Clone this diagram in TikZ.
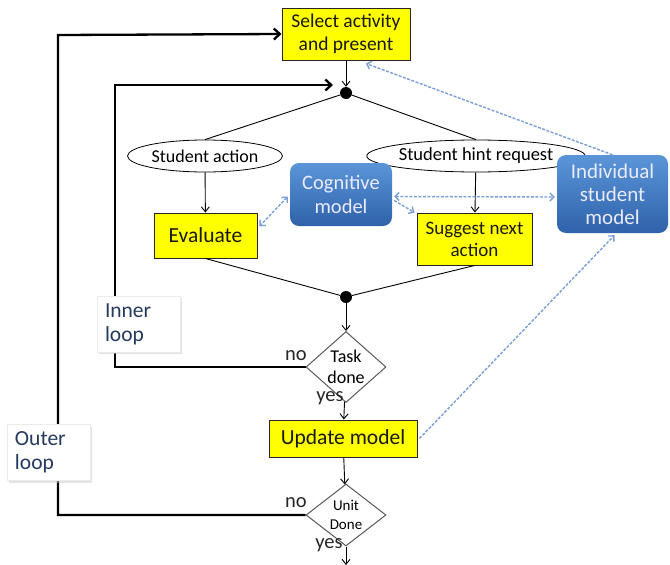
\documentclass[tikz,border=0pt]{standalone}
\usepackage{fontspec}
\setmainfont{Carlito}
\usetikzlibrary{shapes.geometric,arrows.meta,shadows,calc}
\definecolor{dashblue}{HTML}{7A9ED6}
\definecolor{btop}{HTML}{5B95D8}
\definecolor{bbot}{HTML}{2E62AA}
\definecolor{ylw}{HTML}{FFFF00}
\definecolor{labtxt}{HTML}{243A5E}
\tikzset{dtip/.tip={Straight Barb[length=4pt,width=8pt]}}
\begin{document}
\begin{tikzpicture}[x=1pt,y=-1pt,
  ybox/.style={draw=black!85, fill=ylw, line width=1pt, align=center, inner sep=0pt, text=black!90},
  ell/.style={ellipse, draw=black, line width=0.8pt, minimum width=155pt, minimum height=32pt, inner sep=0pt, font=\fontsize{18}{20}\selectfont},
  bbox/.style={rounded corners=9pt, top color=btop, bottom color=bbot, draw=none, text=white!92!blue, align=center, inner sep=0pt},
  dia/.style={diamond, draw=black!65, line width=1pt, fill=white, minimum width=80pt, minimum height=60pt, inner sep=0pt, align=center},
  jdot/.style={circle, fill=black, minimum size=12pt, inner sep=0pt},
  loopbox/.style={fill=white, draw=black!8, drop shadow={shadow xshift=2pt, shadow yshift=-2pt, fill=black!22}, align=left, inner xsep=8pt, inner ysep=0pt, font=\fontsize{21.5}{24}\selectfont, text=labtxt},
  flow/.style={-{Straight Barb[length=5pt,width=8pt]}, line width=0.9pt},
  loopline/.style={line width=2.3pt, -{Straight Barb[length=6pt,width=11pt]}},
  dlink/.style={draw=dashblue, dashed, dash pattern=on 3pt off 1.5pt, line width=1.4pt},
  ltxt/.style={font=\fontsize{20.5}{22}\selectfont, inner sep=0pt, text=black!85}
]
\useasboundingbox (0,0) rectangle (670,565);

% nodes
\node[ybox, minimum width=128pt, minimum height=52pt, font=\fontsize{19.5}{23}\selectfont] (sel) at (346,34) {Select activity\\and present};
\node[jdot] (d1) at (346,93) {};
\node[ell] (sa) at (205,156) {Student action};
\node[ell, font=\fontsize{18.5}{20}\selectfont] (sh) at (476,156) {Student hint request};
\node[ybox, minimum width=103pt, minimum height=45pt, font=\fontsize{21.5}{23}\selectfont] (ev) at (205.5,235.5) {Evaluate};
\node[ybox, minimum width=115pt, minimum height=52pt, font=\fontsize{19}{22}\selectfont] (sn) at (474.5,239) {Suggest next\\action};
\node[bbox, minimum width=102pt, minimum height=63pt, font=\fontsize{20.5}{24}\selectfont] (cm) at (341,194.5) {Cognitive\\model};
\node[bbox, minimum width=111pt, minimum height=78pt, font=\fontsize{21}{23}\selectfont] (ism) at (612.5,194) {Individual\\student\\model};
\node[jdot] (d2) at (346,297) {};
\node[dia, font=\fontsize{18}{21}\selectfont] (td) at (346,367) {Task\\done};
\node[ybox, minimum width=148pt, minimum height=37pt, font=\fontsize{21.5}{23}\selectfont] (um) at (343,438.5) {Update model};
\node[dia, minimum height=62pt, font=\fontsize{15}{19}\selectfont] (ud) at (346,515) {Unit\\Done};
\coordinate (bend) at (346,565);
\coordinate (inEnd) at (333,85);

% loops
\draw[loopline] (td.west) -| (115,85) -- (inEnd);
\draw[loopline] (ud.west) -| (58,35) -- (sel.west);

\node[loopbox, minimum width=83pt, minimum height=56pt, text width=67pt] (il) at (138.5,324) {Inner\\loop};
\node[loopbox, minimum width=83pt, minimum height=56pt, text width=67pt] (ol) at (48.5,452.5) {Outer\\loop};

% flow
\draw[flow] (sel) -- (d1);
\draw[line width=0.9pt] (d1) -- (sa.north);
\draw[line width=0.9pt] (d1) -- (sh.north);
\draw[flow] (sa) -- (ev);
\draw[flow] (sh) -- (sn);
\draw[line width=0.9pt] (ev.south) -- (d2);
\draw[line width=0.9pt] (sn.south) -- (d2);
\draw[flow] (d2) -- (td);
\draw[flow] (td) -- (um);
\draw[flow] (um) -- (ud);
\draw[flow] (ud) -- (bend);

% labels
\node[ltxt] (no1) at (296,356) {no};
\node[ltxt] (yes1) at (330,398) {yes};
\node[ltxt] (no2) at (296,503) {no};
\node[ltxt] (yes2) at (329,545) {yes};

% dashed links
\draw[dlink, -dtip] (ism.north) -- ($(sel.south)+(20,3)$);
\draw[dlink, dtip-dtip] ($(cm.west)+(-2,2)$) -- ($(ev.north east)!0.3!(ev.south east)+(2,0)$);
\draw[dlink, dtip-dtip] ($(cm.east)+(2,2)$) -- ($(ism.west)+(-2,3)$);
\draw[dlink, -dtip] ($(cm.east)+(2,6)$) -- ($(sn.north west)+(-2,0)$);
\draw[dlink, -dtip] ($(um.east)+(2,0)$) -- ($(ism.south)+(2,2)$);
\end{tikzpicture}
\end{document}
